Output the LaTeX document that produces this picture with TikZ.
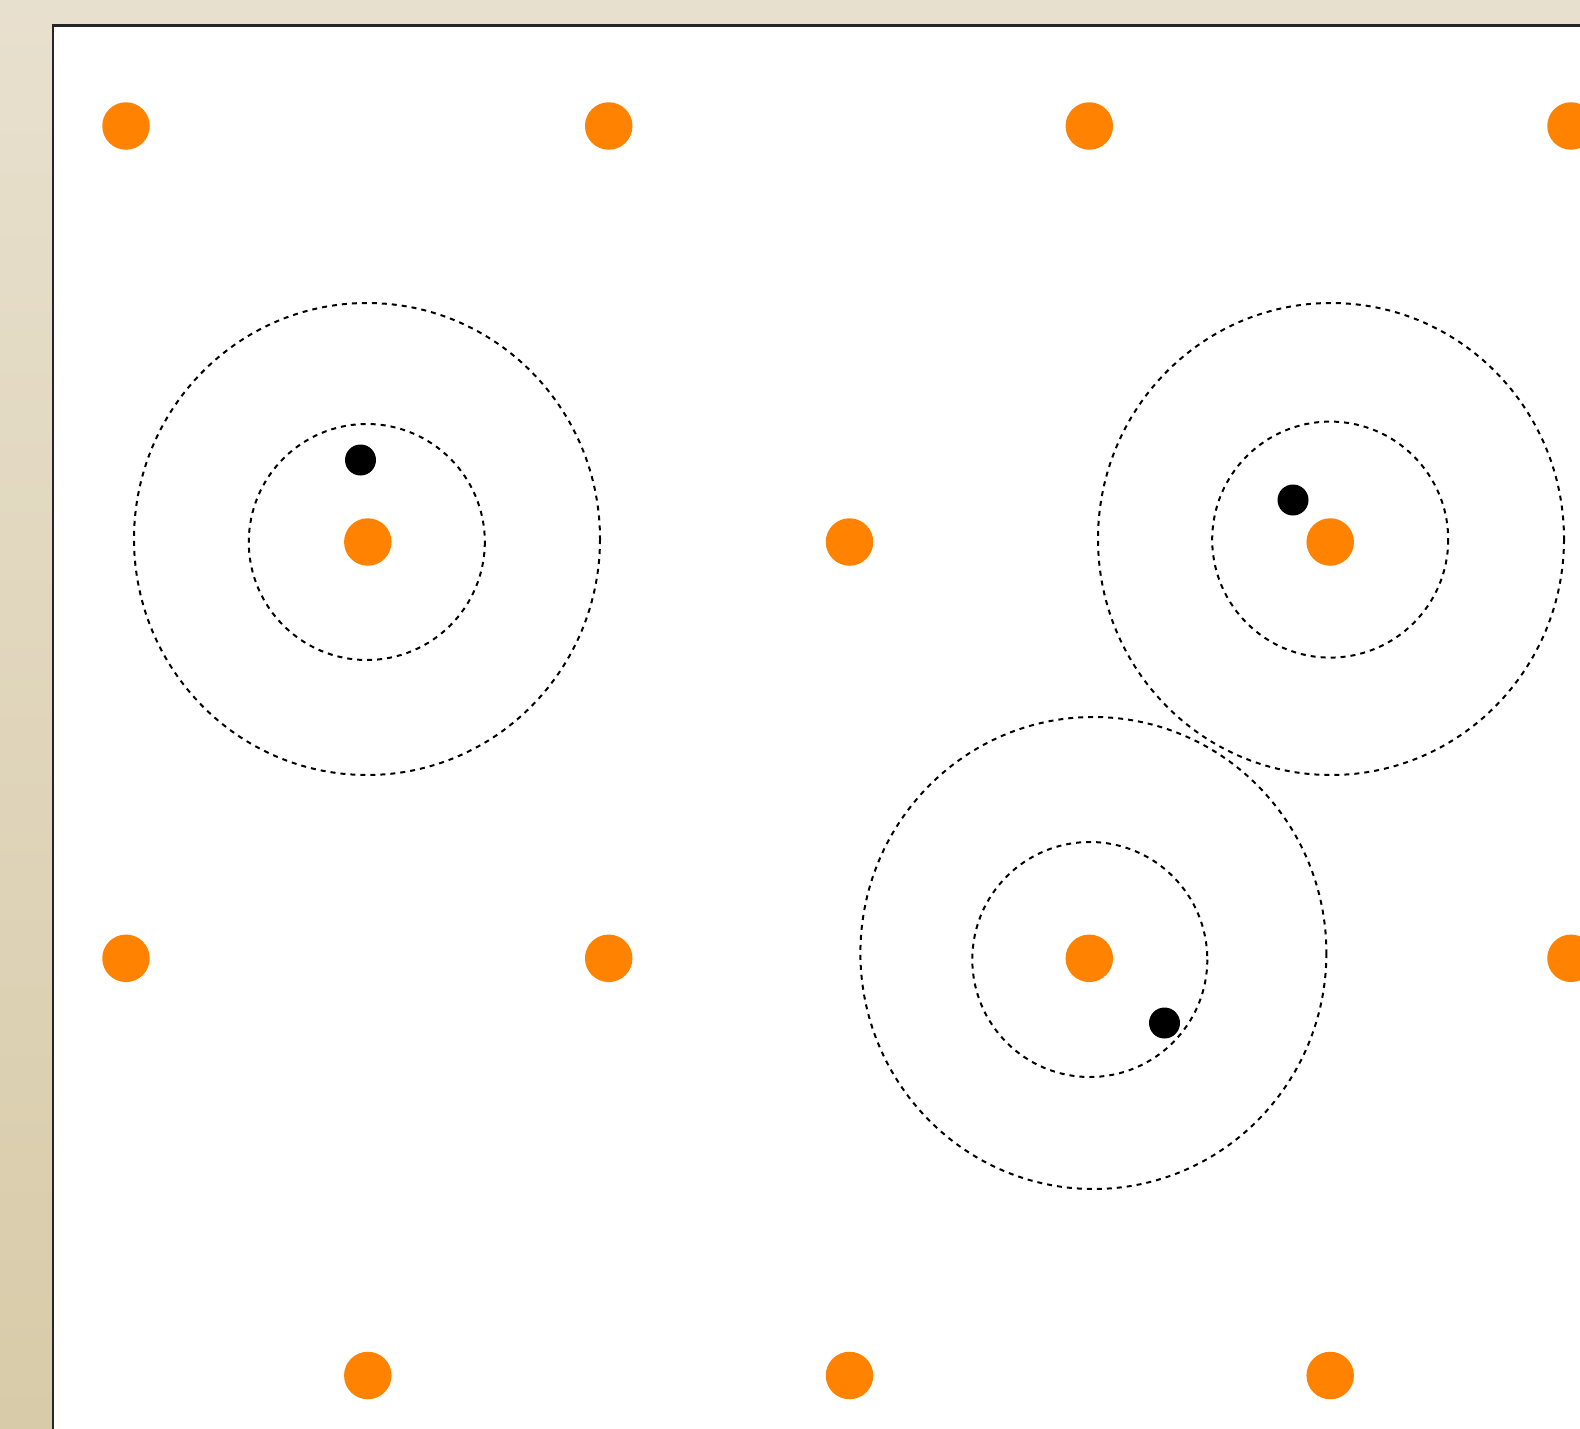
\documentclass[tikz,border=0pt]{standalone}
\begin{document}
\begin{tikzpicture}[x=1pt,y=-1pt,
  site/.style={circle,fill={rgb,255:red,255;green,130;blue,0},draw=none,inner sep=0pt,minimum size=47.5pt},
  electron/.style={circle,fill=black,draw=none,inner sep=0pt,minimum size=31pt},
  orbit/.style={draw=black,line width=2pt,dash pattern=on 5pt off 5pt}]
\useasboundingbox (0,0) rectangle (1580,1429);
\shade[top color={rgb,255:red,232;green,224;blue,206},bottom color={rgb,255:red,216;green,203;blue,169}] (0,0) rectangle (1580,1429);
\fill[white] (53,25.5) rectangle (1590,1440);
\draw[line width=2.2pt,black!85] (53,1440) -- (53,25.5) -- (1590,25.5);
% lattice sites
\foreach \x/\n in {126/a,608.7/b,1089.3/c,1571/d}{
  \node[site] (r1\n) at (\x,126) {};
  \node[site] (r3\n) at (\x,958.3) {};
}
\foreach \x/\n in {367.8/a,849.5/b,1330.2/c}{
  \node[site] (r2\n) at (\x,542) {};
  \node[site] (r4\n) at (\x,1375.5) {};
}
% orbits
\draw[orbit] (367,539) ellipse [x radius=233, y radius=236];
\draw[orbit] (366.8,542) circle [radius=118];
\draw[orbit] (1331,539) ellipse [x radius=233, y radius=236];
\draw[orbit] (1330.2,539.6) circle [radius=118];
\draw[orbit] (1093.4,953) ellipse [x radius=233, y radius=236];
\draw[orbit] (1089.8,959.5) circle [radius=117.5];
% electrons
\node[electron] (e1) at (360.5,460) {};
\node[electron] (e2) at (1293,500) {};
\node[electron] (e3) at (1164.5,1023) {};
\end{tikzpicture}
\end{document}
